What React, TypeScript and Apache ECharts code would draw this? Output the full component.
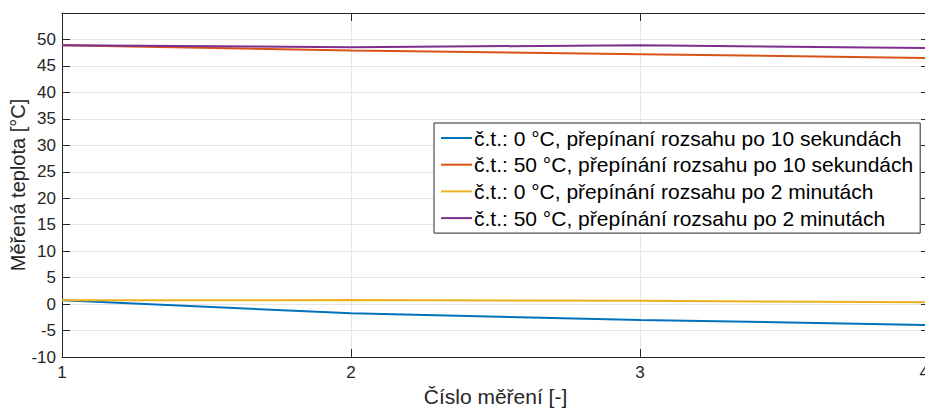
import React, { useEffect, useRef } from "react";
import * as echarts from "echarts";

const measurements = [1, 2, 3, 4];
const seriesNames = [
  "č.t.: 0 °C, přepínaní rozsahu po 10 sekundách",
  "č.t.: 50 °C, přepínání rozsahu po 10 sekundách",
  "č.t.: 0 °C, přepínání rozsahu po 2 minutách",
  "č.t.: 50 °C, přepínání rozsahu po 2 minutách",
];
const blue0_10s = [0.7, -1.75, -3.0, -3.95];
const orange50_10s = [48.9, 47.9, 47.2, 46.5];
const yellow0_2m = [0.7, 0.75, 0.62, 0.35];
const purple50_2m = [48.9, 48.55, 48.9, 48.4];
const colors = ["#0072BD", "#D95319", "#EDB120", "#7E2F8E"];
const seriesValues = [blue0_10s, orange50_10s, yellow0_2m, purple50_2m];

const FONT = "Liberation Sans, Arial, Helvetica, sans-serif";
const AX = "#262626";

export default function App() {
  const ref = useRef<HTMLDivElement>(null);
  useEffect(() => {
    if (!ref.current) return;
    const chart = echarts.init(ref.current, undefined, { renderer: "svg" });
    const baseX = {
      type: "value",
      min: 1,
      max: 4,
      interval: 1,
      axisLine: { show: true, onZero: false, lineStyle: { color: AX, width: 1 } },
      axisTick: { show: true, inside: true, length: 8, lineStyle: { color: AX } },
    };
    const baseY = {
      type: "value",
      min: -10,
      max: 55,
      interval: 5,
      axisLine: { show: true, onZero: false, lineStyle: { color: AX, width: 1 } },
      axisTick: { show: true, inside: true, length: 8, lineStyle: { color: AX } },
    };
    chart.setOption({
      animation: false,
      textStyle: { fontFamily: FONT },
      grid: { left: 62, right: 4, top: 13, bottom: 53, containLabel: false, outerBoundsMode: "none" },
      xAxis: [
        {
          ...baseX,
          position: "bottom",
          name: "Číslo měření [-]",
          nameLocation: "middle",
          nameGap: 29,
          nameMoveOverlap: false,
          nameTextStyle: { fontSize: 21, color: AX, fontFamily: FONT },
          axisLabel: {
            fontSize: 17,
            color: AX,
            margin: 7,
            fontFamily: FONT,
            showMaxLabel: true,
            showMinLabel: true,
            hideOverlap: false,
            alignMaxLabel: "right",
          },
          splitLine: { show: true, lineStyle: { color: "#e5e5e5", width: 1 } },
        },
        {
          ...baseX,
          position: "top",
          axisLabel: { show: false },
          splitLine: { show: false },
        },
      ],
      yAxis: [
        {
          ...baseY,
          position: "left",
          name: "Měřená teplota [°C]",
          nameLocation: "middle",
          nameGap: 34,
          nameMoveOverlap: false,
          nameTextStyle: { fontSize: 20, color: AX, fontFamily: FONT },
          axisLabel: {
            fontSize: 17,
            color: AX,
            margin: 6,
            fontFamily: FONT,
            formatter: (v: number) => (v > 50 ? "" : String(v)),
          },
          splitLine: { show: true, lineStyle: { color: "#e5e5e5", width: 1 } },
        },
        {
          ...baseY,
          position: "right",
          axisLabel: { show: false },
          splitLine: { show: false },
        },
      ],
      legend: {
        orient: "vertical",
        left: 434,
        top: 123,
        padding: [4, 7, 4, 7],
        itemGap: 4.7,
        itemWidth: 31,
        itemHeight: 2,
        icon: "rect",
        borderColor: AX,
        borderWidth: 1,
        borderRadius: 0,
        backgroundColor: "#ffffff",
        textStyle: { fontSize: 21, color: "#000000", fontFamily: FONT, padding: [0, 0, 0, -3], lineHeight: 22 },
        data: seriesNames,
      },
      series: seriesNames.map((name, i) => ({
        name,
        type: "line",
        symbol: "none",
        showSymbol: false,
        data: measurements.map((x, j) => [x, seriesValues[i][j]]),
        lineStyle: { color: colors[i], width: 2 },
        itemStyle: { color: colors[i] },
        z: 3,
      })),
    });
    return () => chart.dispose();
  }, []);
  return <div ref={ref} style={{ width: 933, height: 410, marginLeft: -8, marginTop: -8 }} />;
}
